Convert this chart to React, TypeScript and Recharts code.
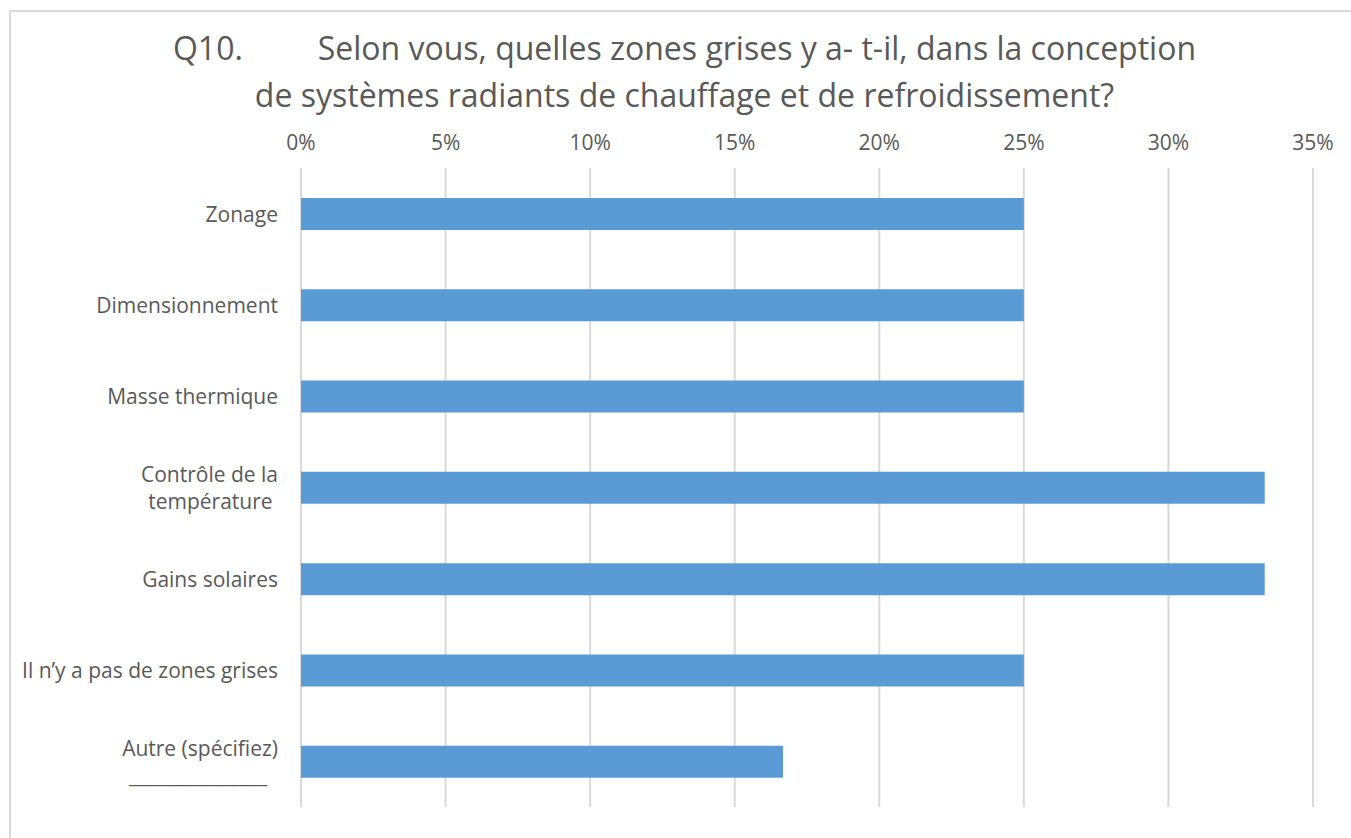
import React from 'react';
import { BarChart, Bar, XAxis, YAxis, CartesianGrid } from 'recharts';

const categories = [
  'Zonage',
  'Dimensionnement',
  'Masse thermique',
  'Contrôle de la\ntempérature\u00a0',
  'Gains solaires',
  'Il n’y a pas de zones grises',
  'Autre (spécifiez)\n_______________\u00a0\u00a0',
];
const shares = [0.25, 0.25, 0.25, 0.3333, 0.3333, 0.25, 0.1667];
const xTicks = [0, 0.05, 0.1, 0.15, 0.2, 0.25, 0.3, 0.35];

const titleLines = [
  'Q10.         Selon vous, quelles zones grises y a- t-il, dans la conception',
  'de systèmes radiants de chauffage et de refroidissement?',
];

const data = categories.map((name, i) => ({ name, value: shares[i] }));

const FONT = '"Open Sans", "Noto Sans", sans-serif';
const TEXT = '#595959';

const CategoryTick = (props: any) => {
  const { x, y, payload } = props;
  const lines = String(payload.value).split('\n');
  const lh = 27;
  const start = y - ((lines.length - 1) * lh) / 2;
  return (
    <text x={x} y={start} textAnchor="end" fill={TEXT} fontSize={21} fontFamily={FONT} dominantBaseline="central">
      {lines.map((l, i) => (
        <tspan key={i} x={x} y={start + i * lh}>{l}</tspan>
      ))}
    </text>
  );
};

export default function App() {
  return (
    <div style={{ position: 'absolute', left: 0, top: 0, width: 1351, height: 838, background: '#fff', overflow: 'hidden' }}>
      <div style={{ position: 'absolute', left: 9, top: 10, width: 1400, height: 900, border: '2px solid #d9d9d9', boxSizing: 'border-box' }} />
      <div style={{ position: 'absolute', left: 0, top: 24, width: 1369, textAlign: 'center', fontFamily: FONT, fontSize: 32, lineHeight: '47px', color: TEXT, whiteSpace: 'pre' }}>
        {titleLines.map((t, i) => <div key={i}>{t}</div>)}
      </div>
      <div style={{ position: 'absolute', left: 0, top: 0 }}>
        <BarChart
          width={1351}
          height={838}
          data={data}
          layout="vertical"
          margin={{ top: 128, right: 38, bottom: 31, left: 0 }}
          barSize={32}
        >
          <CartesianGrid horizontal={false} stroke="#d9d9d9" strokeWidth={2} />
          <XAxis
            type="number"
            orientation="top"
            domain={[0, 0.35]}
            ticks={xTicks}
            tickFormatter={(v: number) => `${Math.round(v * 100)}%`}
            axisLine={false}
            tickLine={false}
            height={40}
            tick={{ fill: TEXT, fontSize: 21, fontFamily: FONT }}
            tickMargin={12}
          />
          <YAxis
            type="category"
            dataKey="name"
            width={301}
            axisLine={false}
            tickLine={false}
            tick={<CategoryTick />}
            tickMargin={17}
          />
          <Bar dataKey="value" fill="#5b9bd5" isAnimationActive={false} />
        </BarChart>
      </div>
    </div>
  );
}
